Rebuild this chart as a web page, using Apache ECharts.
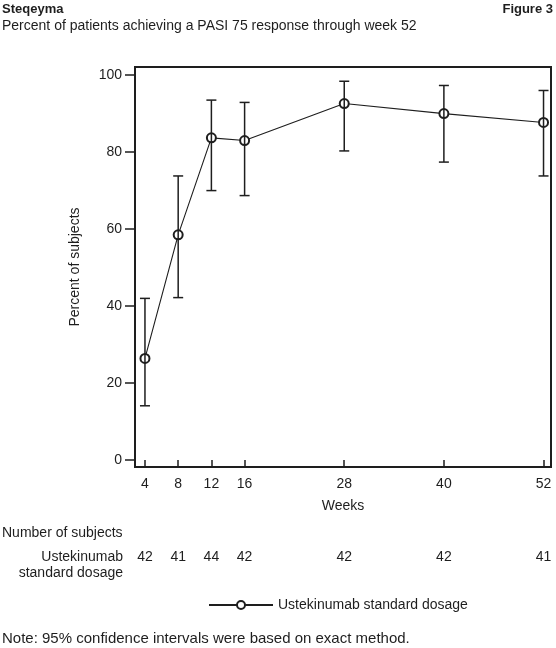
<!DOCTYPE html>
<html>
<head>
<meta charset="utf-8">
<script src="https://cdn.jsdelivr.net/npm/echarts@6/dist/echarts.min.js"></script>
<style>html,body{margin:0;padding:0;background:#fff}#c{width:556px;height:648px}</style>
</head>
<body>
<div id="c"></div>
<script>
var weeks = [4, 8, 12, 16, 28, 40, 52];
var percent = [26.4, 58.5, 83.7, 83.0, 92.6, 90.0, 87.7];
var ciLower = [14.1, 42.2, 70.0, 68.7, 80.3, 77.4, 73.8];
var ciUpper = [42.0, 73.8, 93.5, 92.9, 98.4, 97.3, 96.0];
var nSubjects = [42, 41, 44, 42, 42, 42, 41];
var yTicks = [0, 20, 40, 60, 80, 100];
var seriesName = 'Ustekinumab standard dosage';

var FONT = '"Liberation Sans", Arial, sans-serif';
var INK = '#1e1e1e';

var chart = echarts.init(document.getElementById('c'), null, {renderer: 'canvas'});

var lineData = weeks.map(function (w, i) { return [w, percent[i]]; });
var errData = weeks.map(function (w, i) { return [w, ciLower[i], ciUpper[i]]; });
var nData = weeks.map(function (w, i) { return [w, 0.5, nSubjects[i]]; });

var option = {
  backgroundColor: '#fff',
  animation: false,
  textStyle: {fontFamily: FONT, color: INK},
  grid: [
    {left: 135, top: 67, width: 416, height: 400, show: true, borderColor: INK, borderWidth: 2, backgroundColor: 'transparent'},
    {left: 135, top: 546, width: 416, height: 22, show: false}
  ],
  xAxis: [
    {
      type: 'value', gridIndex: 0, min: 2.8, max: 52.9,
      name: 'Weeks', nameLocation: 'middle', nameGap: 32,
      nameTextStyle: {fontFamily: FONT, fontSize: 14, color: INK},
      axisLine: {show: false},
      splitLine: {show: false},
      axisTick: {show: true, length: 7, lineStyle: {color: INK, width: 1.5}, customValues: weeks},
      axisLabel: {fontFamily: FONT, fontSize: 14, color: INK, margin: 10, customValues: weeks}
    },
    {type: 'value', gridIndex: 1, min: 2.8, max: 52.9, show: false}
  ],
  yAxis: [
    {
      type: 'value', gridIndex: 0, min: -1.8, max: 102.1,
      name: 'Percent of subjects', nameLocation: 'middle', nameGap: 53, nameRotate: 90,
      nameTextStyle: {fontFamily: FONT, fontSize: 14, color: INK},
      axisLine: {show: false},
      splitLine: {show: false},
      axisTick: {show: true, length: 10, lineStyle: {color: INK, width: 1.5}, customValues: yTicks},
      axisLabel: {fontFamily: FONT, fontSize: 14, color: INK, margin: 13, customValues: yTicks}
    },
    {type: 'value', gridIndex: 1, min: 0, max: 1, show: false}
  ],
  legend: {
    left: 208, top: 598, padding: 0,
    itemWidth: 64, itemHeight: 10,
    lineStyle: {width: 2, color: INK},
    textStyle: {fontFamily: FONT, fontSize: 14, color: INK},
    data: [seriesName]
  },
  series: [
    {
      name: seriesName, type: 'line', xAxisIndex: 0, yAxisIndex: 0,
      data: lineData,
      symbol: 'emptyCircle', symbolSize: 9,
      lineStyle: {color: INK, width: 1.1},
      itemStyle: {color: INK, borderColor: INK, borderWidth: 1.2},
      z: 3
    },
    {
      name: 'ci', type: 'custom', xAxisIndex: 0, yAxisIndex: 0,
      data: errData, z: 4,
      renderItem: function (params, api) {
        var x = api.value(0);
        var lo = api.coord([x, api.value(1)]);
        var hi = api.coord([x, api.value(2)]);
        var hw = 5;
        var st = {stroke: INK, lineWidth: 1.5, fill: null};
        return {
          type: 'group',
          children: [
            {type: 'line', shape: {x1: lo[0], y1: lo[1], x2: hi[0], y2: hi[1]}, style: st},
            {type: 'line', shape: {x1: lo[0] - hw, y1: lo[1], x2: lo[0] + hw, y2: lo[1]}, style: st},
            {type: 'line', shape: {x1: hi[0] - hw, y1: hi[1], x2: hi[0] + hw, y2: hi[1]}, style: st}
          ]
        };
      }
    },
    {
      name: 'n', type: 'custom', xAxisIndex: 1, yAxisIndex: 1,
      data: nData,
      renderItem: function (params, api) {
        var p = api.coord([api.value(0), api.value(1)]);
        return {
          type: 'text', x: p[0], y: p[1],
          style: {text: String(api.value(2)), font: '14px ' + FONT, fill: INK, align: 'center', verticalAlign: 'middle'}
        };
      }
    }
  ],
  graphic: [
    {type: 'text', left: 2, top: 3, style: {text: 'Steqeyma', font: 'bold 13px ' + FONT, fill: INK}},
    {type: 'text', right: 3, top: 3, style: {text: 'Figure 3', font: 'bold 13px ' + FONT, fill: INK}},
    {type: 'text', left: 2, top: 19, style: {text: 'Percent of patients achieving a PASI 75 response through week 52', font: '14px ' + FONT, fill: INK}},
    {type: 'text', left: 2, top: 526, style: {text: 'Number of subjects', font: '14px ' + FONT, fill: INK}},
    {type: 'text', x: 123, y: 549, style: {text: 'Ustekinumab\nstandard dosage', font: '14px ' + FONT, fill: INK, align: 'right', lineHeight: 16}},
    {type: 'text', left: 2, top: 631, style: {text: 'Note: 95% confidence intervals were based on exact method.', font: '15px ' + FONT, fill: INK}}
  ]
};
chart.setOption(option);
</script>
</body>
</html>
